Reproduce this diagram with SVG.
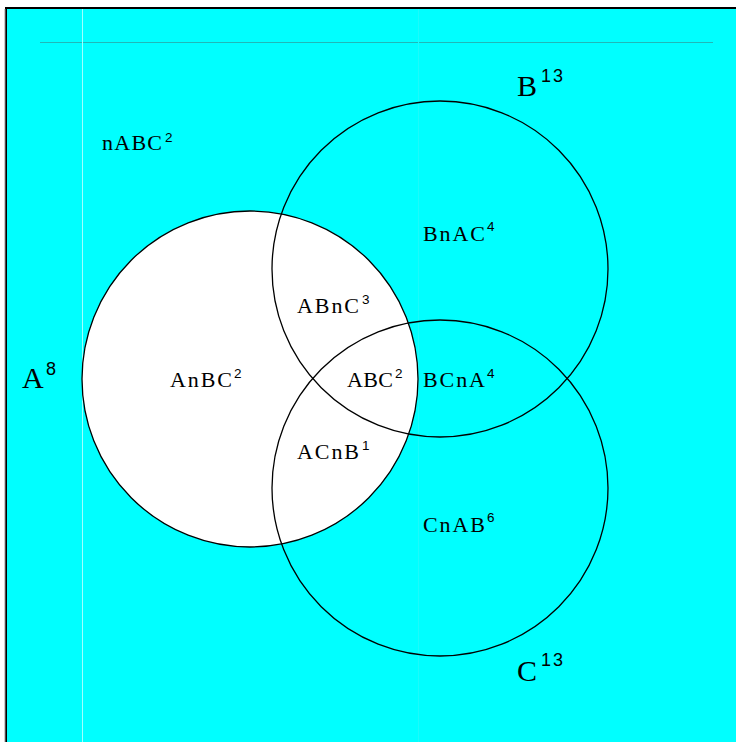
<svg xmlns="http://www.w3.org/2000/svg" width="736" height="742" viewBox="0 0 736 742">
<style>
.lbl{font-family:"Liberation Serif","Times New Roman",serif;font-size:22px;fill:#000}
.big{font-family:"Liberation Serif","Times New Roman",serif;font-size:30px;fill:#000}
.sup{font-family:"Liberation Sans",Arial,sans-serif;font-size:13.5px;fill:#000}
.bsup{font-family:"Liberation Sans",Arial,sans-serif;font-size:18px;fill:#000;letter-spacing:2px}
.set{stroke:#000;stroke-width:1.3}
</style>
<rect x="0" y="0" width="736" height="742" fill="#fff"/>
<rect id="universe" x="6" y="8" width="740" height="750" fill="#00ffff" stroke="#000" stroke-width="2"/>
<line x1="5" y1="9" x2="5" y2="742" stroke="#999" stroke-width="1"/>
<line x1="40" y1="42.5" x2="713" y2="42.5" stroke="#20b8b8" stroke-width="1"/>
<line x1="82.5" y1="9" x2="82.5" y2="742" stroke="#9fffff" stroke-width="1"/>
<line x1="418.5" y1="9" x2="418.5" y2="742" stroke="#1cfafa" stroke-width="1"/>
<g id="connectors"></g>
<g id="setA"><circle class="set" cx="250" cy="379" r="168" fill="#fff"/></g>
<g id="setB"><circle class="set" cx="440" cy="269" r="168" fill="none"/></g>
<g id="setC"><circle class="set" cx="440" cy="488" r="168" fill="none"/></g>
<g id="label-nABC"><text class="lbl" x="102" y="150" textLength="60" lengthAdjust="spacing">nABC</text><text class="sup" x="165" y="142">2</text></g>
<g id="label-A"><text class="big" x="22" y="388">A</text><text class="bsup" x="46" y="375">8</text></g>
<g id="label-B"><text class="big" x="517" y="96">B</text><text class="bsup" x="541" y="82">13</text></g>
<g id="label-C"><text class="big" x="517" y="681">C</text><text class="bsup" x="541" y="666">13</text></g>
<g id="label-AnBC"><text class="lbl" x="170" y="387" textLength="62" lengthAdjust="spacing">AnBC</text><text class="sup" x="234" y="378">2</text></g>
<g id="label-ABnC"><text class="lbl" x="297" y="313" textLength="62" lengthAdjust="spacing">ABnC</text><text class="sup" x="362" y="304">3</text></g>
<g id="label-ABC"><text class="lbl" x="347" y="387" textLength="46" lengthAdjust="spacing">ABC</text><text class="sup" x="395" y="378">2</text></g>
<g id="label-BCnA"><text class="lbl" x="423" y="387" textLength="62" lengthAdjust="spacing">BCnA</text><text class="sup" x="487" y="378">4</text></g>
<g id="label-ACnB"><text class="lbl" x="297" y="459" textLength="62" lengthAdjust="spacing">ACnB</text><text class="sup" x="362" y="450">1</text></g>
<g id="label-BnAC"><text class="lbl" x="423" y="241" textLength="62" lengthAdjust="spacing">BnAC</text><text class="sup" x="487" y="231">4</text></g>
<g id="label-CnAB"><text class="lbl" x="423" y="532" textLength="62" lengthAdjust="spacing">CnAB</text><text class="sup" x="487" y="522">6</text></g>
</svg>
